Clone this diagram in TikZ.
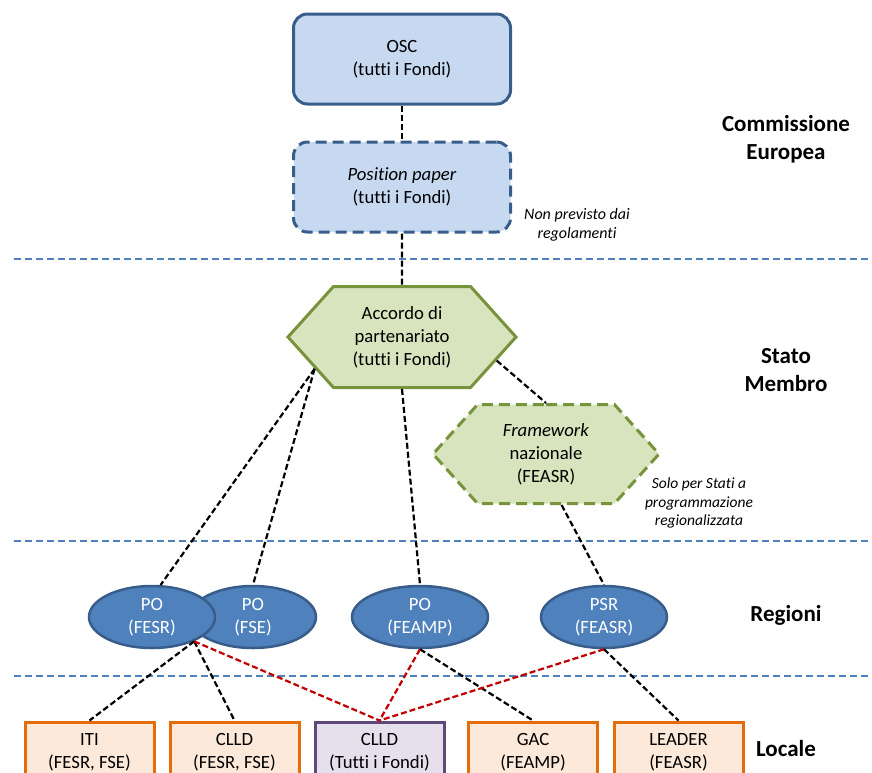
\documentclass[tikz,border=0pt]{standalone}
\usepackage{fontspec}
\setmainfont{Carlito}[Ligatures=NoCommon]
\usetikzlibrary{shapes.geometric,shapes.symbols}

\definecolor{boxblue}{HTML}{C6D9F1}
\definecolor{lineblue}{HTML}{385D8A}
\definecolor{midblue}{HTML}{4F81BD}
\definecolor{boxgreen}{HTML}{D7E4BD}
\definecolor{linegreen}{HTML}{77933C}
\definecolor{boxorange}{HTML}{FDE9D9}
\definecolor{lineorange}{HTML}{E46C0A}
\definecolor{boxpurple}{HTML}{E5E0EC}
\definecolor{linepurple}{HTML}{5F497A}
\definecolor{linkred}{HTML}{C00000}

\tikzset{
  txt/.style={font=\fontsize{18.7}{22.8}\selectfont, align=center},
  euro/.style={txt, draw=lineblue, fill=boxblue, line width=3pt, rounded corners=14pt,
    minimum width=217pt, minimum height=90pt},
  hexa/.style={txt, shape=signal, signal to=east and west, signal pointer angle=96,
    draw=linegreen, fill=boxgreen, line width=3pt, minimum width=228pt, minimum height=101pt},
  prog/.style={txt, ellipse, draw=lineblue, fill=midblue, text=white, line width=2.5pt,
    minimum width=126pt, minimum height=62pt, inner sep=0pt},
  loc/.style={txt, draw=lineorange, fill=boxorange, line width=3pt,
    minimum width=129pt, minimum height=60pt, inner sep=0pt},
  informal/.style={dash pattern=on 11pt off 6pt},
  link/.style={line width=2.2pt, dash pattern=on 6pt off 3pt},
  sep/.style={midblue, line width=1.3pt, dash pattern=on 7pt off 4pt},
  level/.style={font=\fontsize{23}{28}\selectfont\bfseries, align=center},
  note/.style={font=\fontsize{16}{19.5}\selectfont\itshape, align=center}
}

\begin{document}
\begin{tikzpicture}[x=1pt, y=-1pt]
             \useasboundingbox (0,0) rectangle (872,772);
             \clip (0,0) rectangle (872,772);

             \draw[sep] (14,259) -- (872,259);
             \draw[sep] (14,541) -- (872,541);
             \draw[sep] (14,676) -- (872,676);

             \node[euro] (osc) at (402,59) {OSC\\(tutti i Fondi)};
             \node[euro, informal] (pp) at (402,187) {\textit{Position paper}\\(tutti i Fondi)};
             \node[hexa] (acc) at (402,337) {Accordo di\\partenariato\\(tutti i Fondi)};
             \node[hexa, informal, minimum width=226pt, minimum height=99pt] (fw) at (546,454)
                  {\textit{Framework}\\nazionale\\(FEASR)};

             \node[prog] (fse) at (253,617) {PO\\(FSE)};
             \node[prog] (fesr) at (152,617) {PO\\(FESR)};
             \node[prog, minimum width=136pt] (feamp) at (420,617) {PO\\(FEAMP)};
             \node[prog] (psr) at (604,617) {PSR\\(FEASR)};

             \node[loc] (iti) at (89.5,752) {ITI\\(FESR, FSE)};
             \node[loc] (clldA) at (234.5,752) {CLLD\\(FESR, FSE)};
             \node[loc, draw=linepurple, fill=boxpurple] (clldB) at (379.5,752) {CLLD\\(Tutti i Fondi)};
             \node[loc] (gac) at (533,752) {GAC\\(FEAMP)};
             \node[loc] (leader) at (678.5,752) {LEADER\\(FEASR)};

             \node[level] (ce) at (786,139) {Commissione\\Europea};
             \node[level] (sm) at (786,370) {Stato\\Membro};
             \node[level] (reg) at (786,615) {Regioni};
             \node[level] (loc) at (786,748) {Locale};

             \node[note] (np) at (577,225) {Non previsto dai\\regolamenti};
             \node[note, font=\fontsize{15.5}{18.5}\selectfont\itshape] (sp) at (699,503)
                  {Solo per Stati a\\programmazione\\regionalizzata};

             \draw[link] (osc) -- (pp);
             \draw[link] (pp) -- (acc);
             \draw[link] (acc.200) -- (fesr.75);
             \draw[link] (acc.200) -- (fse.north);
             \draw[link] (acc.south) -- (feamp.north);
             \draw[link] (acc.-14) -- (fw.north);
             \draw[link] (fw.-73) -- (psr.north);
             \draw[link] (fesr.-30) -- (iti.north);
             \draw[link] (fesr.-30) -- (clldA.north);
             \draw[link] (feamp.south) -- (gac.north);
             \draw[link] (psr.south) -- (leader.north);
             \draw[link, linkred] (fesr.-30) -- (clldB.north);
             \draw[link, linkred] (feamp.south) -- (clldB.north);
             \draw[link, linkred] (psr.south) -- (clldB.north);
\end{tikzpicture}
\end{document}
